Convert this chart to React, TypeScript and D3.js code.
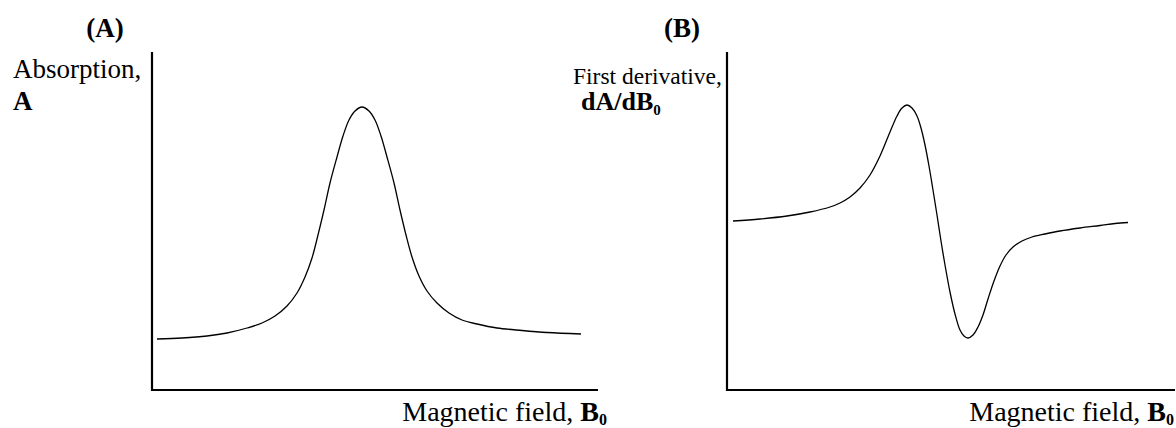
import React from "react";
import * as d3 from "d3";

// Panel A: absorption line (field offset from resonance, absorption in arbitrary units)
const fieldA = [-205, -180, -155, -135, -115, -100, -87, -75, -65, -57, -50, -44, -38, -32, -25, -19, -13, -7, 0, 7, 13, 19, 25, 32, 38, 44, 50, 57, 65, 75, 87, 100, 115, 135, 160, 185, 219];
const absorptionA = [51, 52, 54, 57, 62, 67, 74, 84, 97, 113, 132, 155, 180, 207, 233, 254, 270, 279, 283, 279, 270, 254, 233, 207, 180, 155, 133, 114, 99, 87, 77, 70, 66, 62, 59.5, 57.5, 56];

// Panel B: first-derivative line
const fieldB = [-174, -147, -120, -97, -77, -67, -57, -47, -37, -27, -17, -10, -5, 0, 5, 10, 14, 18, 22, 26, 30, 34, 38, 43, 48, 53, 57, 61, 66, 71, 76, 81, 87, 93, 99, 106, 115, 125, 138, 153, 173, 193, 208, 221];
const derivB = [0, 2, 5, 9, 14, 18, 24, 33, 46, 65, 89, 105, 113, 116, 113, 105, 93, 76, 55, 31, 6, -20, -44, -71, -93, -109, -115, -117, -114, -106, -94, -78, -60, -45, -34, -26, -20, -16, -13, -10, -7, -4.5, -2.5, -1.5];

const panelTitles = ["(A)", "(B)"];
const xLabel = "Magnetic field, ";

const W = 1176;
const H = 428;
const FONT = "'Liberation Serif', 'Times New Roman', serif";

export default function App() {
  const xA = d3.scaleLinear().domain([-210, 236]).range([152, 598]);
  const yA = d3.scaleLinear().domain([0, 338]).range([390, 52]);
  const xB = d3.scaleLinear().domain([-180, 268]).range([727, 1175]);
  const yB = d3.scaleLinear().domain([-169, 169]).range([390, 52]);

  const lineA = d3
    .line<number>()
    .x((d) => xA(d))
    .y((_, i) => yA(absorptionA[i]))
    .curve(d3.curveCatmullRom.alpha(0.5));
  const lineB = d3
    .line<number>()
    .x((d) => xB(d))
    .y((_, i) => yB(derivB[i]))
    .curve(d3.curveCatmullRom.alpha(0.5));

  return (
    <svg
      width={W}
      height={H}
      style={{ position: "absolute", left: 0, top: 0, background: "#fff" }}
      fontFamily={FONT}
    >
      {/* Panel A */}
      <text x={105} y={37} fontSize={27} fontWeight="bold" textAnchor="middle">
        {panelTitles[0]}
      </text>
      <text x={13} y={78} fontSize={27}>Absorption,</text>
      <text x={13} y={110} fontSize={27} fontWeight="bold">A</text>
      <path
        d={`M${xA.range()[0]},${yA.range()[1]}V${yA.range()[0]}H${xA.range()[1]}`}
        fill="none"
        stroke="#000"
        strokeWidth={2.2}
      />
      <path d={lineA(fieldA) || ""} fill="none" stroke="#000" strokeWidth={1.3} />
      <text x={607} y={421} fontSize={28} textAnchor="end">
        {xLabel}
        <tspan fontWeight="bold">B</tspan>
        <tspan fontWeight="bold" fontSize={16} dy={4}>0</tspan>
      </text>

      {/* Panel B */}
      <text x={682} y={37} fontSize={27} fontWeight="bold" textAnchor="middle">
        {panelTitles[1]}
      </text>
      <text x={573} y={84} fontSize={23.5}>First derivative,</text>
      <text x={581} y={110} fontSize={26} fontWeight="bold">
        dA/dB
        <tspan fontSize={15} dy={5}>0</tspan>
      </text>
      <path
        d={`M${xB.range()[0]},${yB.range()[1]}V${yB.range()[0]}H${xB.range()[1]}`}
        fill="none"
        stroke="#000"
        strokeWidth={2.2}
      />
      <path d={lineB(fieldB) || ""} fill="none" stroke="#000" strokeWidth={1.3} />
      <text x={1174} y={421} fontSize={28} textAnchor="end">
        {xLabel}
        <tspan fontWeight="bold">B</tspan>
        <tspan fontWeight="bold" fontSize={16} dy={4}>0</tspan>
      </text>
    </svg>
  );
}
